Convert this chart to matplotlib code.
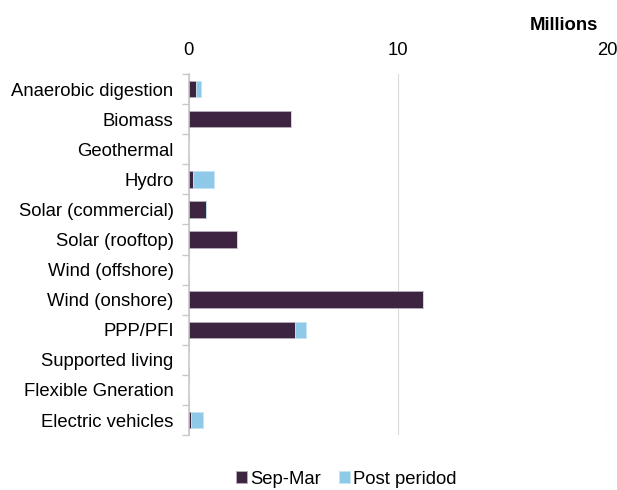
import numpy as np
import matplotlib.pyplot as plt
from matplotlib.ticker import FixedLocator

plt.rcParams['font.family'] = ['Liberation Sans', 'DejaVu Sans']

# Categorias y valores (millones)
categorias = ["Anaerobic digestion", "Biomass", "Geothermal", "Hydro",
              "Solar (commercial)", "Solar (rooftop)", "Wind (offshore)",
              "Wind (onshore)", "PPP/PFI", "Supported living",
              "Flexible Gneration", "Electric vehicles"]
sep_mar = [0.35, 4.9, 0.0, 0.2, 0.8, 2.3, 0.0, 11.2, 5.1, 0.0, 0.0, 0.1]
post_periodo = [0.25, 0.0, 0.0, 1.0, 0.0, 0.0, 0.0, 0.0, 0.5, 0.0, 0.0, 0.6]

color_oscuro = "#3d2541"
color_claro = "#8ecae8"
fuente = 13.3

fig = plt.figure(figsize=(6.17, 4.9), dpi=100)
ax = fig.add_axes([0.306, 0.112, 0.678, 0.737])

y = np.arange(len(categorias))
ax.barh(y, sep_mar, height=0.55, color=color_oscuro, edgecolor="#b8aebb",
        linewidth=0.6, label="Sep-Mar", zorder=3)
ax.barh(y, post_periodo, left=sep_mar, height=0.55, color=color_claro,
        edgecolor="#c4e3f3", linewidth=0.6, label="Post peridod", zorder=3)

ax.set_xlim(0, 20)
ax.set_ylim(len(categorias) - 0.5, -0.5)
ax.set_xticks([0, 10, 20])
ax.xaxis.tick_top()
ax.tick_params(axis="x", length=0, pad=11, labelsize=fuente)
ax.set_yticks(y)
ax.set_yticklabels(categorias)
ax.tick_params(axis="y", which="major", length=0, pad=11, labelsize=fuente)
ax.yaxis.set_minor_locator(FixedLocator(np.arange(-0.5, len(categorias), 1)))
ax.tick_params(axis="y", which="minor", length=5, width=1, color="#c8c8c8")

ax.grid(axis="x", color="#d9d9d9", linewidth=0.8, zorder=0)
for lado in ["top", "right", "bottom"]:
    ax.spines[lado].set_visible(False)
ax.spines["left"].set_color("#c8c8c8")
ax.spines["left"].set_linewidth(1.2)

fig.text(0.969, 0.947, "Millions", fontsize=fuente, fontweight="bold", ha="right", va="center")

leg = fig.legend(loc="center", bbox_to_anchor=(0.561, 0.022), ncol=2, frameon=False,
                 fontsize=fuente, handlelength=0.6, handleheight=0.6, handletextpad=0.15,
                 columnspacing=1.0, borderpad=0)

fig.savefig("out.png", dpi=100)
